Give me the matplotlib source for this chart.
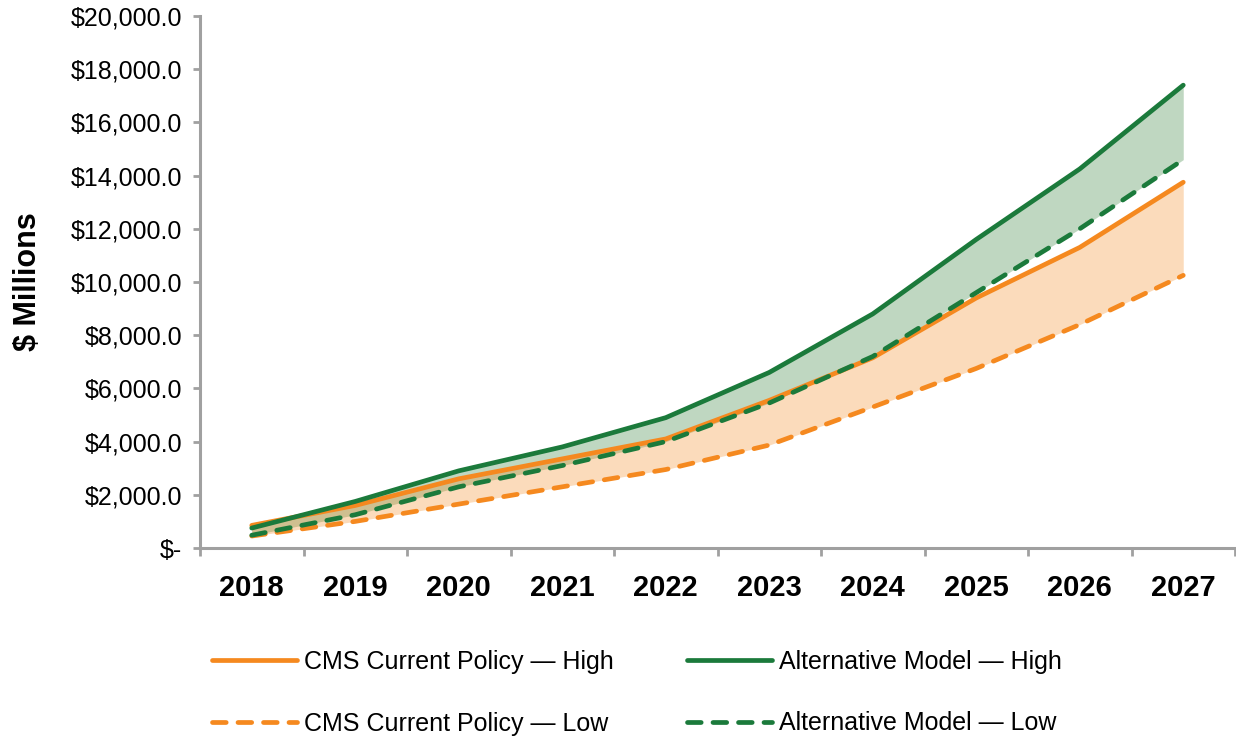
import matplotlib
matplotlib.use("Agg")
import matplotlib.pyplot as plt
from matplotlib.ticker import FuncFormatter, FixedLocator

years = ["2018", "2019", "2020", "2021", "2022", "2023", "2024", "2025", "2026", "2027"]
cms_high = [850, 1600, 2600, 3350, 4100, 5550, 7150, 9400, 11300, 13750]
cms_low = [450, 1000, 1650, 2300, 2950, 3870, 5300, 6750, 8400, 10250]
alt_high = [750, 1750, 2900, 3800, 4900, 6600, 8800, 11600, 14250, 17400]
alt_low = [480, 1250, 2300, 3100, 4000, 5450, 7200, 9600, 12000, 14600]

ORANGE = "#f5891f"
GREEN = "#1b7a3b"
AXIS_GREY = "#a0a0a0"

plt.rcParams["font.family"] = ["Liberation Sans", "DejaVu Sans"]


def money(v, pos):
    if abs(v) < 1e-9:
        return "$-"
    return f"${v:,.1f}"


def main():
    fig = plt.figure(figsize=(12.36, 7.36), dpi=100)
    ax = fig.add_axes([200 / 1236, 1 - 548 / 736, 1035 / 1236, 532 / 736])

    x = list(range(len(years)))

    ax.fill_between(x, alt_low, alt_high, color="#2e7d32", alpha=0.3, lw=0)
    ax.fill_between(x, cms_low, cms_high, color=ORANGE, alpha=0.3, lw=0)

    lw = 3.4
    dash = (0, (2.9, 2.5))
    l_ch, = ax.plot(x, cms_high, color=ORANGE, lw=lw, solid_capstyle="round",
                    label="CMS Current Policy \u2014 High")
    l_cl, = ax.plot(x, cms_low, color=ORANGE, lw=lw, linestyle=dash,
                    dash_capstyle="round", label="CMS Current Policy \u2014 Low")
    l_ah, = ax.plot(x, alt_high, color=GREEN, lw=lw, solid_capstyle="round",
                    label="Alternative Model \u2014 High")
    l_al, = ax.plot(x, alt_low, color=GREEN, lw=lw, linestyle=dash,
                    dash_capstyle="round", label="Alternative Model \u2014 Low")

    ax.set_xlim(-0.5, len(years) - 0.5)
    ax.set_ylim(0, 20000)

    for side in ("top", "right"):
        ax.spines[side].set_visible(False)
    for side in ("left", "bottom"):
        ax.spines[side].set_color(AXIS_GREY)
        ax.spines[side].set_linewidth(2.2)

    ax.set_yticks(range(0, 20001, 2000))
    ax.yaxis.set_major_formatter(FuncFormatter(money))
    ax.tick_params(axis="y", length=5, width=2, color=AXIS_GREY, pad=8,
                   labelsize=18)

    ax.xaxis.set_major_locator(FixedLocator([i - 0.5 for i in range(len(years) + 1)]))
    ax.xaxis.set_minor_locator(FixedLocator(x))
    ax.set_xticklabels([], minor=False)
    ax.set_xticklabels(years, minor=True, fontsize=21, fontweight="bold")
    ax.tick_params(axis="x", which="major", length=6, width=2, color=AXIS_GREY)
    ax.tick_params(axis="x", which="minor", length=0, pad=19)

    ax.set_ylabel("$ Millions", fontsize=22, fontweight="bold", labelpad=20)

    fig.legend(handles=[l_ch, l_cl, l_ah, l_al], loc="upper left",
               bbox_to_anchor=(212 / 1236, 1 - 650 / 736), ncol=2,
               frameon=False, fontsize=18, handlelength=3.4,
               handletextpad=0.3, columnspacing=2.9, labelspacing=1.5,
               borderpad=0, borderaxespad=0)

    fig.savefig("out.png", dpi=100)


if __name__ == "__main__":
    main()
